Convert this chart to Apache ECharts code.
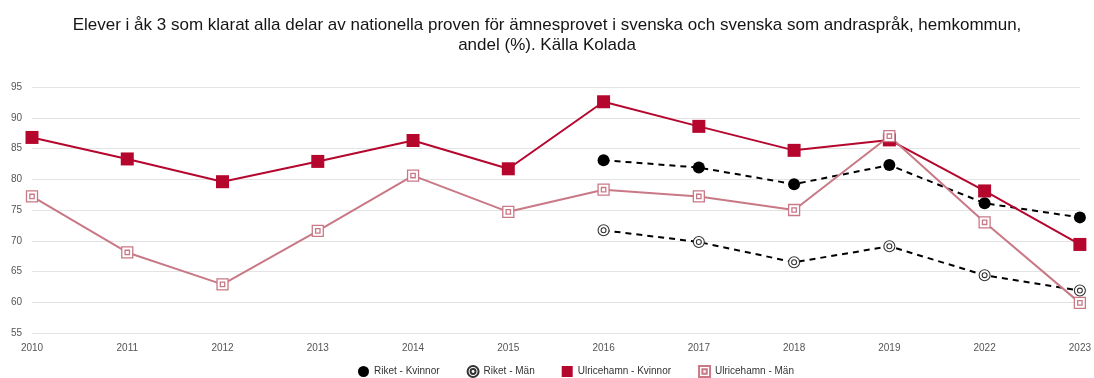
<!DOCTYPE html>
<html><head><meta charset="utf-8">
<script src="https://cdn.jsdelivr.net/npm/echarts@6/dist/echarts.min.js"></script>
<style>html,body{margin:0;padding:0;background:#fff}#c{width:1094px;height:378px}</style>
</head><body><div id="c"></div>
<script>
const titleText = 'Elever i åk 3 som klarat alla delar av nationella proven för ämnesprovet i svenska och svenska som andraspråk, hemkommun,\nandel (%). Källa Kolada';
const years = ['2010','2011','2012','2013','2014','2015','2016','2017','2018','2019','2022','2023'];
const riketKvinnor = [null,null,null,null,null,null,83.1,81.9,79.2,82.3,76.1,73.8];
const riketMan = [null,null,null,null,null,null,71.7,69.8,66.5,69.1,64.4,61.9];
const ulrKvinnor = [86.8,83.3,79.6,82.9,86.3,81.7,92.6,88.6,84.7,86.4,78.1,69.4];
const ulrMan = [77.2,68.1,62.9,71.6,80.6,74.7,78.3,77.2,75.0,87.0,73.0,59.9];
const seriesNames = ['Riket - Kvinnor','Riket - Män','Ulricehamn - Kvinnor','Ulricehamn - Män'];

const dblCircle = 'path://M10,0A10,10 0 1,1 -10,0A10,10 0 1,1 10,0Z M4.5,0A4.5,4.5 0 1,1 -4.5,0A4.5,4.5 0 1,1 4.5,0Z';
const dblRect = 'path://M0,0H20V20H0Z M6,6H14V14H6Z';
const red = '#b5072d', pink = '#c97886';

const chart = echarts.init(document.getElementById('c'), null, {renderer:'canvas'});
chart.setOption({
  animation:false,
  textStyle:{fontFamily:'Liberation Sans, Arial, sans-serif'},
  title:{text:titleText,left:'center',top:10,textStyle:{fontSize:17,fontWeight:'normal',color:'#151515',lineHeight:20}},
  grid:{left:32,right:11,top:87,bottom:45},
  legend:{top:360,left:353,itemWidth:11,itemHeight:11,itemGap:27,textStyle:{fontSize:10,color:'#333'},
    data:[{name:seriesNames[0],icon:'circle'},{name:seriesNames[1],icon:dblCircle},{name:seriesNames[2],icon:'rect'},{name:seriesNames[3],icon:dblRect}]},
  xAxis:{type:'category',data:years,boundaryGap:false,axisLine:{show:false},axisTick:{show:false},
    axisLabel:{fontSize:10,color:'#555',margin:10}},
  yAxis:{type:'value',min:55,max:95,interval:5,axisLabel:{fontSize:10,color:'#555',margin:10},
    splitLine:{lineStyle:{color:'#e3e3e3'}}},
  series:[
    {name:seriesNames[0],type:'line',data:riketKvinnor,symbol:'circle',symbolSize:12,
      itemStyle:{color:'#000'},lineStyle:{color:'#000',width:2,type:[6,5]}},
    {name:seriesNames[1],type:'line',data:riketMan,symbol:dblCircle,symbolSize:11,symbolKeepAspect:true,
      itemStyle:{color:'#fff',borderColor:'#333',borderWidth:1.1},lineStyle:{color:'#000',width:2,type:[6,5]}},
    {name:seriesNames[2],type:'line',data:ulrKvinnor,symbol:'rect',symbolSize:13,
      itemStyle:{color:red},lineStyle:{color:red,width:2}},
    {name:seriesNames[3],type:'line',data:ulrMan,symbol:dblRect,symbolSize:11,symbolKeepAspect:true,
      itemStyle:{color:'#fff',borderColor:pink,borderWidth:1.3},lineStyle:{color:pink,width:2}}
  ]
});
</script></body></html>
